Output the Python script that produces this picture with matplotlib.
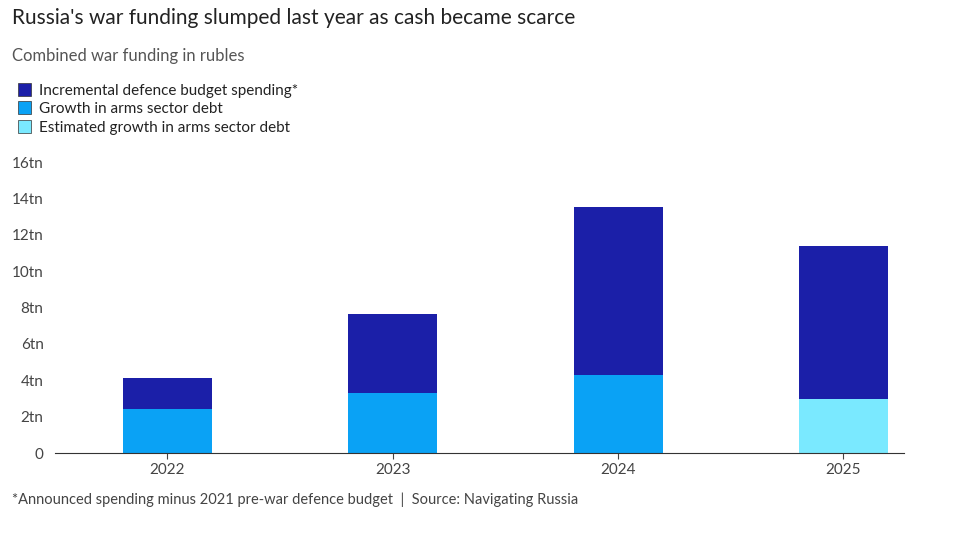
import matplotlib
matplotlib.use("Agg")
import matplotlib.pyplot as plt
from matplotlib.patches import Patch

years = ["2022", "2023", "2024", "2025"]
debt = [2.42, 3.30, 4.29, 0.0]
est_debt = [0.0, 0.0, 0.0, 2.97]
budget = [1.70, 4.34, 9.23, 8.41]
yticks = [0, 2, 4, 6, 8, 10, 12, 14, 16]
ylabels = ["0", "2tn", "4tn", "6tn", "8tn", "10tn", "12tn", "14tn", "16tn"]

navy, blue, cyan = "#1b1fa8", "#0aa2f5", "#7ae9ff"
plt.rcParams["font.family"] = ["Lato", "DejaVu Sans"]
fig = plt.figure(figsize=(9.6, 5.33), dpi=100)
ax = fig.add_axes([0.057, 0.15, 0.885, 0.546])
x = range(len(years))
base = [d + e for d, e in zip(debt, est_debt)]
ax.bar(x, debt, width=0.395, color=blue)
ax.bar(x, est_debt, width=0.395, color=cyan)
ax.bar(x, budget, bottom=base, width=0.395, color=navy)
ax.set_xlim(-0.5, 3.27)
ax.set_ylim(0, 16)
ax.set_yticks(yticks, ylabels)
ax.set_xticks(list(x), years)
for s in ["top", "right", "left"]:
    ax.spines[s].set_visible(False)
ax.spines["bottom"].set_color("#333333")
ax.tick_params(axis="y", length=0, labelsize=11, colors="#444444", pad=8)
ax.tick_params(axis="x", length=4, labelsize=11, colors="#444444")

fig.text(0.012, 0.955, "Russia's war funding slumped last year as cash became scarce", fontsize=15, color="#222222")
fig.text(0.012, 0.885, "Combined war funding in rubles", fontsize=12, color="#555555")
handles = [Patch(facecolor=navy, edgecolor="#333", lw=0.5), Patch(facecolor=blue, edgecolor="#333", lw=0.5), Patch(facecolor=cyan, edgecolor="#333", lw=0.5)]
fig.legend(handles, ["Incremental defence budget spending*", "Growth in arms sector debt", "Estimated growth in arms sector debt"],
           loc="upper left", bbox_to_anchor=(0.004, 0.87), frameon=False, fontsize=11,
           handlelength=0.9, handleheight=0.9, handletextpad=0.5, labelspacing=0.25, labelcolor="#222222")
fig.text(0.012, 0.055, "*Announced spending minus 2021 pre-war defence budget  |  Source: Navigating Russia", fontsize=10.5, color="#444444")
fig.savefig("out.png", dpi=100, facecolor="white")
